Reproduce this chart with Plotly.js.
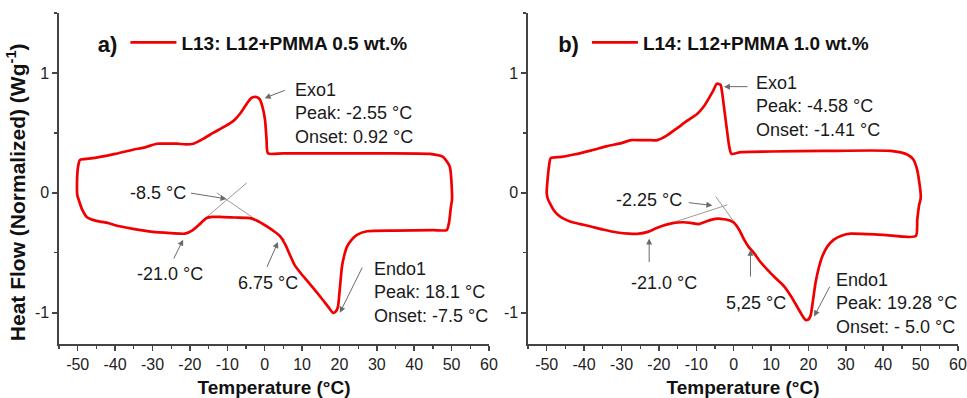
<!DOCTYPE html>
<html>
<head>
<meta charset="utf-8">
<script src="https://cdn.plot.ly/plotly-3.0.1.min.js"></script>
<style>html,body{margin:0;padding:0;background:#fff;}#chart{width:967px;height:398px;}</style>
</head>
<body>
<div id="chart"></div>
<script>
// ---------- Panel a) L13 : DSC loop (temperature °C, heat flow W/g) ----------
const tempA = [50.1, 49.5, 47.7, 44.2, 30, 18, 5, 0.9, 0.5, 0.1, -0.6, -1.3, -2.2, -2.9, -3.6, -4.4, -5.5, -6.6, -8, -9.3, -11.5, -13.8, -16.5, -19.1, -21, -23.5, -26, -28.8, -32, -35.2, -40, -44, -47, -49.4, -49.9, -50.2, -50.1, -49.6, -48.8, -47.6, -46, -44, -42, -40, -35.2, -29.9, -25, -21.3, -19.2, -17, -15.5, -14, -12, -8, -3.9, -1.5, 0.6, 2.5, 4.1, 5.5, 6.8, 8, 9.4, 11, 12.9, 15, 17, 18.3, 19, 19.6, 20.1, 20.7, 21.3, 22, 23.3, 24.7, 27.4, 35, 45, 48.7, 49.3, 49.8, 50.1, 50.1];
const heatA = [0.0, 0.22, 0.30, 0.325, 0.33, 0.33, 0.33, 0.33, 0.45, 0.61, 0.72, 0.78, 0.80, 0.80, 0.79, 0.76, 0.71, 0.66, 0.61, 0.58, 0.54, 0.50, 0.45, 0.41, 0.405, 0.41, 0.41, 0.41, 0.38, 0.36, 0.325, 0.30, 0.285, 0.275, 0.22, 0.05, -0.02, -0.07, -0.14, -0.2, -0.225, -0.24, -0.25, -0.27, -0.30, -0.325, -0.335, -0.34, -0.31, -0.25, -0.21, -0.2, -0.2, -0.205, -0.21, -0.24, -0.28, -0.32, -0.36, -0.43, -0.52, -0.6, -0.66, -0.72, -0.79, -0.87, -0.95, -1.0, -0.99, -0.95, -0.80, -0.61, -0.52, -0.45, -0.39, -0.35, -0.32, -0.315, -0.31, -0.31, -0.25, -0.12, -0.06, 0.0];

// ---------- Panel b) L14 ----------
const tempB = [50, 49.1, 48, 46.4, 42, 24.1, 10, 1.9, -0.6, -1.2, -1.9, -2.6, -3.1, -3.5, -4.5, -5.5, -6.6, -8, -9.7, -12.5, -15.1, -17.8, -20.4, -23, -25, -27.5, -30, -33.8, -38, -42.7, -46, -48.9, -49.4, -50, -49.7, -49.1, -48.2, -47.1, -45.5, -43.6, -41, -38.2, -35, -31.1, -28, -25.3, -23, -20.4, -18, -16, -13.5, -11.5, -9.3, -7.5, -6.1, -4, -2.6, -1, 0.1, 1.5, 2.8, 4, 5.4, 7, 9, 11.2, 13.5, 15.5, 17, 18.3, 19.3, 20, 20.6, 21.2, 21.9, 22.8, 23.7, 25, 26.8, 29, 31.3, 40, 48.7, 49.1, 49.6, 50, 50];
const heatB = [0.0, 0.19, 0.28, 0.32, 0.35, 0.35, 0.345, 0.34, 0.325, 0.39, 0.55, 0.72, 0.84, 0.90, 0.91, 0.85, 0.79, 0.72, 0.66, 0.6, 0.54, 0.48, 0.44, 0.44, 0.44, 0.44, 0.415, 0.39, 0.355, 0.32, 0.30, 0.29, 0.22, 0.0, -0.05, -0.09, -0.14, -0.18, -0.215, -0.24, -0.26, -0.28, -0.305, -0.33, -0.34, -0.34, -0.325, -0.29, -0.265, -0.25, -0.245, -0.25, -0.26, -0.24, -0.225, -0.215, -0.22, -0.23, -0.25, -0.31, -0.39, -0.45, -0.5, -0.57, -0.64, -0.71, -0.78, -0.87, -0.95, -1.02, -1.06, -1.055, -1.02, -0.9, -0.75, -0.62, -0.53, -0.45, -0.39, -0.355, -0.34, -0.35, -0.36, -0.225, -0.1, -0.05, 0.0];

// ---------- Tangent construction lines ----------
const tangentAx = [-16.4, -4.8, null, -12.8, 5.4];
const tangentAy = [-0.225, 0.083, null, 0.0, -0.39];
const tangentBx = [-15.5, -1.7, null, -4.8, 1.9];
const tangentBy = [-0.24, -0.1, null, -0.03, -0.32];

// ---------- Labels ----------
const nameA = "L13: L12+PMMA 0.5 wt.%";
const nameB = "L14: L12+PMMA 1.0 wt.%";
const xTickVals = [-50, -40, -30, -20, -10, 0, 10, 20, 30, 40, 50, 60];
const xTickText = ["-50", "-40", "-30", "-20", "-10", "0", "10", "20", "30", "40", "50", "60"];
const yTickVals = [-1, 0, 1];
const yTickText = ["-1", "0", "1"];
const yTitle = "<b>Heat Flow (Normalized) (Wg<sup>-1</sup>)</b>";

// annotations: [text, x, y, align]  (text blocks)
const labelsA = [
  ["-8.5 °C", -28.5, 0.0, "center"],
  ["-21.0 °C", -25.3, -0.68, "center"],
  ["6.75 °C", 1.0, -0.75, "center"],
  ["Endo1<br>Peak: 18.1 °C<br>Onset: -7.5 °C", 28.6, -0.83, "left"],
  ["Exo1<br>Peak: -2.55 °C<br>Onset: 0.92 °C", 7.7, 0.66, "left"]
];
const labelsB = [
  ["-2.25 °C", -22.6, -0.06, "center"],
  ["-21.0 °C", -18.6, -0.75, "center"],
  ["5,25 °C", 5.9, -0.92, "center"],
  ["Endo1<br>Peak: 19.28 °C<br>Onset: - 5.0 °C", 26.8, -0.92, "left"],
  ["Exo1<br>Peak: -4.58 °C<br>Onset: -1.41 °C", 5.4, 0.72, "left"]
];
// arrows: [tailX, tailY, headX, headY]
const arrowsA = [
  [-20.1, 0.0, -10.2, -0.05],
  [-24.5, -0.56, -21.8, -0.39],
  [0.45, -0.63, 3.56, -0.41],
  [26.3, -0.61, 20.1, -1.0],
  [5.8, 0.86, 0.0, 0.79]
];
const arrowsB = [
  [-12.4, -0.08, -5.7, -0.105],
  [-22.6, -0.59, -22.6, -0.38],
  [4.5, -0.71, 4.5, -0.475],
  [25.9, -0.77, 21.5, -1.03],
  [4.1, 0.886, -2.6, 0.886]
];

const FONT = "Liberation Sans, Arial, sans-serif";
const RED = "#f00000";
const GRAY = "#9a9a9a";

const traces = [
  {x: tangentAx, y: tangentAy, xaxis: "x", yaxis: "y", mode: "lines", line: {color: GRAY, width: 1}, showlegend: false, hoverinfo: "skip"},
  {x: tangentBx, y: tangentBy, xaxis: "x2", yaxis: "y2", mode: "lines", line: {color: GRAY, width: 1}, showlegend: false, hoverinfo: "skip"},
  {x: tempA, y: heatA, xaxis: "x", yaxis: "y", mode: "lines", name: nameA, legend: "legend", line: {color: RED, width: 2.7, shape: "spline", smoothing: 0.6}},
  {x: tempB, y: heatB, xaxis: "x2", yaxis: "y2", mode: "lines", name: nameB, legend: "legend2", line: {color: RED, width: 2.7, shape: "spline", smoothing: 0.6}}
];

function xAxis(domain, anchor) {
  return {
    domain: domain, anchor: anchor, range: [-55, 60], tickvals: xTickVals, ticktext: xTickText,
    ticks: "outside", ticklen: 5, tickwidth: 1.5, tickcolor: "#444",
    minor: {dtick: 5, tick0: 0, ticks: "outside", ticklen: 3, tickwidth: 1.2, tickcolor: "#444"},
    showline: true, linecolor: "#444", linewidth: 1.6, showgrid: false, zeroline: false,
    tickfont: {family: FONT, size: 16, color: "#222"},
    title: {text: "<b>Temperature (°C)</b>", font: {family: FONT, size: 19, color: "#111"}, standoff: 13},
    automargin: false, fixedrange: true
  };
}
function yAxis(anchor) {
  return {
    domain: [0, 1], anchor: anchor, range: [-1.26, 1.5], tickvals: yTickVals, ticktext: yTickText,
    ticks: "outside", ticklen: 5, tickwidth: 1.5, tickcolor: "#444",
    minor: {dtick: 0.5, tick0: 0, ticks: "outside", ticklen: 3, tickwidth: 1.2, tickcolor: "#444"},
    showline: true, linecolor: "#444", linewidth: 1.6, showgrid: false, zeroline: false,
    tickfont: {family: FONT, size: 16, color: "#222"},
    automargin: false, fixedrange: true
  };
}

const annotations = [];
function addLabels(list, xr, yr) {
  list.forEach(l => annotations.push({
    text: l[0], x: l[1], y: l[2], xref: xr, yref: yr, showarrow: false,
    xanchor: l[3], yanchor: "middle", align: l[3],
    font: {family: FONT, size: 18, color: "#1a1a1a"}
  }));
}
function addArrows(list, xr, yr) {
  list.forEach(a => annotations.push({
    text: "", x: a[2], y: a[3], ax: a[0], ay: a[1], xref: xr, yref: yr, axref: xr, ayref: yr,
    showarrow: true, arrowhead: 2, arrowsize: 1.2, arrowwidth: 1, arrowcolor: "#6a6a6a"
  }));
}
addLabels(labelsA, "x", "y");
addLabels(labelsB, "x2", "y2");
addArrows(arrowsA, "x", "y");
addArrows(arrowsB, "x2", "y2");
// y-axis title (rotated), placed like the original figure
annotations.push({
  text: yTitle, textangle: -90, xref: "paper", yref: "paper", x: -0.047, y: 0.458,
  xanchor: "center", yanchor: "middle", showarrow: false,
  font: {family: FONT, size: 21, color: "#111"}
});

function legendCfg(x, title) {
  return {
    x: x, y: 0.909, xref: "paper", yref: "paper", xanchor: "left", yanchor: "middle",
    bgcolor: "rgba(0,0,0,0)", borderwidth: 0, itemwidth: 46,
    title: {text: "<b>" + title + "</b>", side: "left", font: {family: FONT, size: 22, color: "#111"}},
    font: {family: FONT, size: 19, color: "#111", weight: "bold"}
  };
}

const layout = {
  width: 967, height: 398,
  margin: {l: 59, r: 9, t: 13, b: 54},
  paper_bgcolor: "#fff", plot_bgcolor: "#fff",
  xaxis: xAxis([0, 0.4783], "y"),
  yaxis: yAxis("x"),
  xaxis2: xAxis([0.5217, 1], "y2"),
  yaxis2: yAxis("x2"),
  legend: legendCfg(0.041, "a)"),
  legend2: legendCfg(0.553, "b)"),
  annotations: annotations,
  showlegend: true
};

Plotly.newPlot("chart", traces, layout, {displayModeBar: false, staticPlot: true});
</script>
</body>
</html>
